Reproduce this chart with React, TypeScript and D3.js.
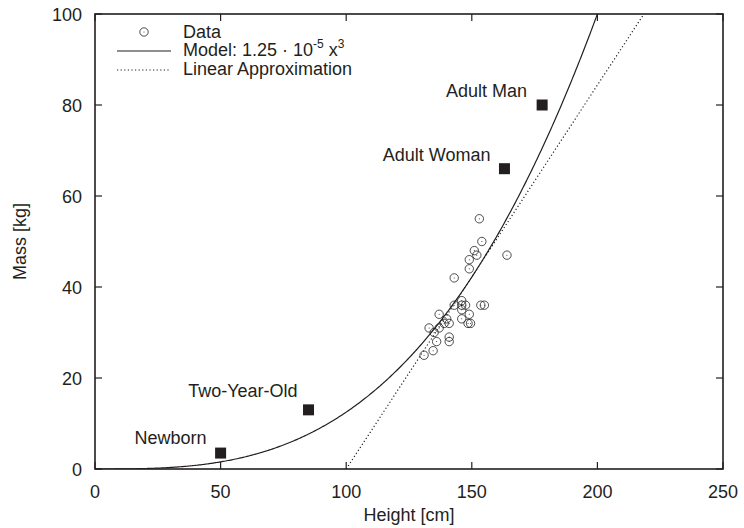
import React from "react";
import * as d3 from "d3";

// ---- data ----
const heights = [131, 134.6, 136, 141, 141, 135, 133, 137, 139, 141, 140, 137, 146, 148.5, 149.5, 149, 146, 143, 146, 147.5, 146, 153.6, 155, 143, 149, 149, 151, 152, 154, 153, 164];
const masses = [25, 26, 28, 28, 29, 30, 31, 31, 32, 32, 33, 34, 33, 32, 32, 34, 35, 36, 36, 36, 37, 36, 36, 42, 44, 46, 48, 47, 50, 55, 47];

const refNames = ["Newborn", "Two-Year-Old", "Adult Woman", "Adult Man"];
const refHeights = [50, 85, 163, 178];
const refMasses = [3.5, 13, 66, 80];

const xTicks = [0, 50, 100, 150, 200, 250];
const yTicks = [0, 20, 40, 60, 80, 100];

const modelCoef = 1.25e-5;
const tangentAt = 150;

export default function App() {
  const W = 744, H = 528;
  const m = { left: 95, top: 14, right: 723, bottom: 469 };
  const x = d3.scaleLinear().domain([0, 250]).range([m.left, m.right]);
  const y = d3.scaleLinear().domain([0, 100]).range([m.bottom, m.top]);
  const font = "'Liberation Sans', Arial, Helvetica, sans-serif";
  const fs = 18;
  const ink = "#231f20";

  const modelXs = d3.range(0, 200.01, 0.5);
  const modelLine = d3.line<number>().x((d) => x(d)).y((d) => y(modelCoef * d * d * d))(modelXs) || "";

  const slope = 3 * modelCoef * tangentAt * tangentAt;
  const x0 = tangentAt - (modelCoef * tangentAt ** 3) / slope;
  const x1 = x0 + 100 / slope;
  const linLine = d3.line<number>().x((d) => x(d)).y((d) => y(slope * (d - x0)))([x0, x1]) || "";

  const labelOffsets = [[-14, -9], [-11, -13], [-14, -8], [-15, -8]];
  const tick = 7;

  return (
    <svg width={W} height={H} style={{ position: "absolute", left: 0, top: 0, background: "#fff" }} fontFamily={font}>
      <defs>
        <clipPath id="plot">
          <rect x={m.left} y={m.top} width={m.right - m.left} height={m.bottom - m.top} />
        </clipPath>
      </defs>
      {/* ticks */}
      {xTicks.map((t) => (
        <g key={"xt" + t}>
          <line x1={x(t)} x2={x(t)} y1={m.bottom} y2={m.bottom - tick} stroke={ink} strokeWidth={1.2} />
          <line x1={x(t)} x2={x(t)} y1={m.top} y2={m.top + tick} stroke={ink} strokeWidth={1.2} />
          <text x={x(t)} y={498} textAnchor="middle" fontSize={fs} fill={ink}>{t}</text>
        </g>
      ))}
      {yTicks.map((t) => (
        <g key={"yt" + t}>
          <line x1={m.left} x2={m.left + tick} y1={y(t)} y2={y(t)} stroke={ink} strokeWidth={1.2} />
          <line x1={m.right} x2={m.right - tick} y1={y(t)} y2={y(t)} stroke={ink} strokeWidth={1.2} />
          <text x={82} y={y(t) + 6.5} textAnchor="end" fontSize={fs} fill={ink}>{t}</text>
        </g>
      ))}
      {/* curves */}
      <g clipPath="url(#plot)">
        <path d={modelLine} fill="none" stroke={ink} strokeWidth={1.2} />
        <path d={linLine} fill="none" stroke={ink} strokeWidth={1.2} strokeDasharray="1.2 2.4" />
      </g>
      {/* data points */}
      {heights.map((h, i) => (
        <g key={"p" + i}>
          <circle cx={x(h)} cy={y(masses[i])} r={4.2} fill="none" stroke={ink} strokeWidth={0.8} />
          <circle cx={x(h)} cy={y(masses[i])} r={0.5} fill={ink} />
        </g>
      ))}
      {/* reference squares */}
      {refHeights.map((h, i) => (
        <g key={"r" + i}>
          <rect x={x(h) - 5.5} y={y(refMasses[i]) - 5.5} width={11} height={11} fill={ink} />
          <text x={x(h) + labelOffsets[i][0]} y={y(refMasses[i]) + labelOffsets[i][1]} textAnchor="end" fontSize={fs} fill={ink}>
            {refNames[i]}
          </text>
        </g>
      ))}
      {/* frame */}
      <rect x={m.left} y={m.top} width={m.right - m.left} height={m.bottom - m.top} fill="none" stroke={ink} strokeWidth={1.6} />
      {/* legend */}
      <g fontSize={fs} fill={ink}>
        <circle cx={144} cy={32} r={4.2} fill="none" stroke={ink} strokeWidth={0.8} />
        <circle cx={144} cy={32} r={0.5} fill={ink} />
        <text x={183} y={37.5}>Data</text>
        <line x1={117} x2={171} y1={51} y2={51} stroke={ink} strokeWidth={1.2} />
        <text x={183} y={56}>
          Model: 1.25 · 10
          <tspan dy={-8} fontSize={12}>-5</tspan>
          <tspan dy={8}> x</tspan>
          <tspan dy={-8} fontSize={12}>3</tspan>
        </text>
        <line x1={117} x2={171} y1={70} y2={70} stroke={ink} strokeWidth={1.2} strokeDasharray="1.2 2.4" />
        <text x={183} y={74.5}>Linear Approximation</text>
      </g>
      {/* axis labels */}
      <text x={(m.left + m.right) / 2} y={521} textAnchor="middle" fontSize={fs} fill={ink}>Height [cm]</text>
      <text transform={`translate(26,${(m.top + m.bottom) / 2}) rotate(-90)`} textAnchor="middle" fontSize={fs} fill={ink}>Mass [kg]</text>
    </svg>
  );
}
